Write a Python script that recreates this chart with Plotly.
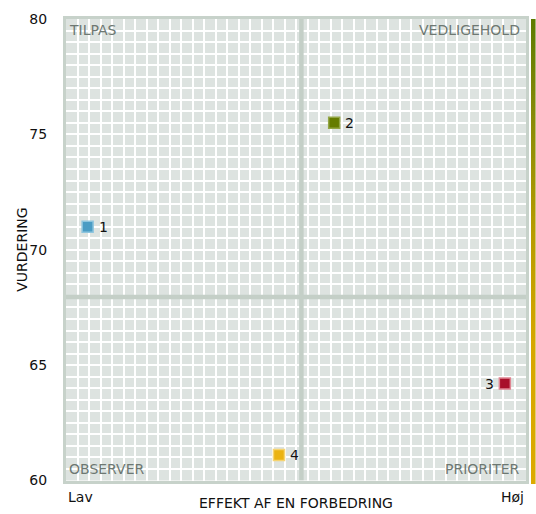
import plotly.graph_objects as go
import numpy as np

labels = ['1', '2', '3', '4']
effekt = [4.7, 58.3, 95.4, 46.3]
vurdering = [71.0, 75.5, 64.2, 61.1]
fill_colors = ['#4a9cc4', '#657c00', '#a8102a', '#ebb312']
edge_colors = ['#8ec5de', '#93a645', '#e08592', '#f6d470']
label_side = ['right', 'right', 'left', 'right']
y_ticks = [60, 65, 70, 75, 80]
x_range = [0, 100]
y_range = [60, 80]
quadrant_names = ['TILPAS', 'VEDLIGEHOLD', 'OBSERVER', 'PRIORITER']
x_end_labels = ['Lav', 'Høj']
x_title = 'EFFEKT AF EN FORBEDRING'
y_title = 'VURDERING'
strip_stops = [[0, '#dcaa00'], [0.3, '#d6a700'], [0.55, '#b59b00'],
               [0.8, '#858a08'], [1, '#5d7b00']]

FONT = 'DejaVu Sans, Verdana, sans-serif'
x_mean = float(np.mean(effekt))
y_mean = float(np.mean(vurdering))

W, H = 536, 514
ML, MR, MT, MB = 66, 0, 19, 30
pw = W - ML - MR
ph = H - MT - MB
main_xdom = [0, 460 / pw]
main_ydom = [3.5 / ph, 1]
strip_dom = [(531 - ML) / pw, (535.5 - ML) / pw]
divider = '#c4cfc7'

fig = go.Figure()
# quadrant dividers at the means
fig.add_trace(go.Scatter(x=[x_mean, x_mean], y=y_range, mode='lines',
                         line=dict(color=divider, width=4.5),
                         showlegend=False, hoverinfo='skip'))
fig.add_trace(go.Scatter(x=x_range, y=[y_mean, y_mean], mode='lines',
                         line=dict(color=divider, width=4.5),
                         showlegend=False, hoverinfo='skip'))
fig.add_trace(go.Scatter(
    x=effekt, y=vurdering, mode='markers',
    marker=dict(symbol='square', size=11, color=fill_colors,
                line=dict(color=edge_colors, width=1.5)),
    showlegend=False, hoverinfo='skip', cliponaxis=False))

for lab, xv, yv, side in zip(labels, effekt, vurdering, label_side):
    fig.add_annotation(text=lab, x=xv, y=yv, xref='x', yref='y',
                       xanchor='left' if side == 'right' else 'right',
                       yanchor='middle', xshift=9 if side == 'right' else -9,
                       showarrow=False,
                       font=dict(family=FONT, size=14, color='#111111'))

# gradient strip at the right edge
grad = np.linspace(0, 1, 120)
fig.add_trace(go.Heatmap(z=[[v] for v in grad], x=[0], y=list(grad),
                         colorscale=strip_stops, showscale=False, hoverinfo='skip',
                         xaxis='x2', yaxis='y2', zmin=0, zmax=1))

qcol = '#6d7872'
qpos = [(0, 1, 'left', 'top', 1, -1), (1, 1, 'right', 'top', -4, -1),
        (0, 0, 'left', 'bottom', 1, 2), (1, 0, 'right', 'bottom', -4, 2)]
for name, (xx, yy, xa, ya, xs, ys) in zip(quadrant_names, qpos):
    fig.add_annotation(text=name, xref='x domain', yref='y domain', x=xx, y=yy,
                       xanchor=xa, yanchor=ya, xshift=xs, yshift=ys, showarrow=False,
                       font=dict(family=FONT, size=14, color=qcol))

for name, xx, xa in zip(x_end_labels, [0, 1], ['left', 'right']):
    fig.add_annotation(text=name, xref='x domain', yref='y domain', x=xx, y=0,
                       xanchor=xa, yanchor='middle', yshift=-16, showarrow=False,
                       font=dict(family=FONT, size=14, color='#111111'))

fig.add_annotation(text=x_title, xref='x domain', yref='y domain', x=0.5, y=0,
                   xanchor='center', yanchor='middle', yshift=-22, showarrow=False,
                   font=dict(family=FONT, size=14, color='#111111'))
fig.add_annotation(text=y_title, xref='x domain', yref='y domain', x=0, y=0.5,
                   xanchor='center', yanchor='middle', xshift=-44, textangle=-90,
                   showarrow=False, font=dict(family=FONT, size=14, color='#111111'))

fig.update_layout(
    width=W, height=H,
    margin=dict(l=ML, r=MR, t=MT, b=MB, autoexpand=False),
    paper_bgcolor='white', plot_bgcolor='#dde3e0',
    font=dict(family=FONT, size=14, color='#111111'),
    xaxis=dict(domain=main_xdom, range=x_range, tick0=0, dtick=2.5, showgrid=True,
               gridcolor='white', gridwidth=2, zeroline=False, showticklabels=False,
               ticks='', showline=True, mirror=True, linecolor='#c7d2ca', linewidth=3,
               fixedrange=True, automargin=False),
    yaxis=dict(domain=main_ydom, range=y_range, tickvals=y_ticks,
               ticktext=[str(v) for v in y_ticks],
               showgrid=True, gridcolor='white', gridwidth=2, zeroline=False,
               ticks='', ticklabelstandoff=13, showline=True, mirror=True,
               linecolor='#c7d2ca', linewidth=3, fixedrange=True,
               automargin=False,
               minor=dict(dtick=0.5, showgrid=True, gridcolor='white', gridwidth=2),
               tickfont=dict(family=FONT, size=14, color='#111111')),
    xaxis2=dict(domain=strip_dom, anchor='y2', visible=False, fixedrange=True),
    yaxis2=dict(domain=[0, 1], anchor='x2', visible=False, fixedrange=True,
                range=[0, 1]),
)

fig.write_html('out.html', config={'displayModeBar': False},
               post_script="document.body.style.margin='0';")
